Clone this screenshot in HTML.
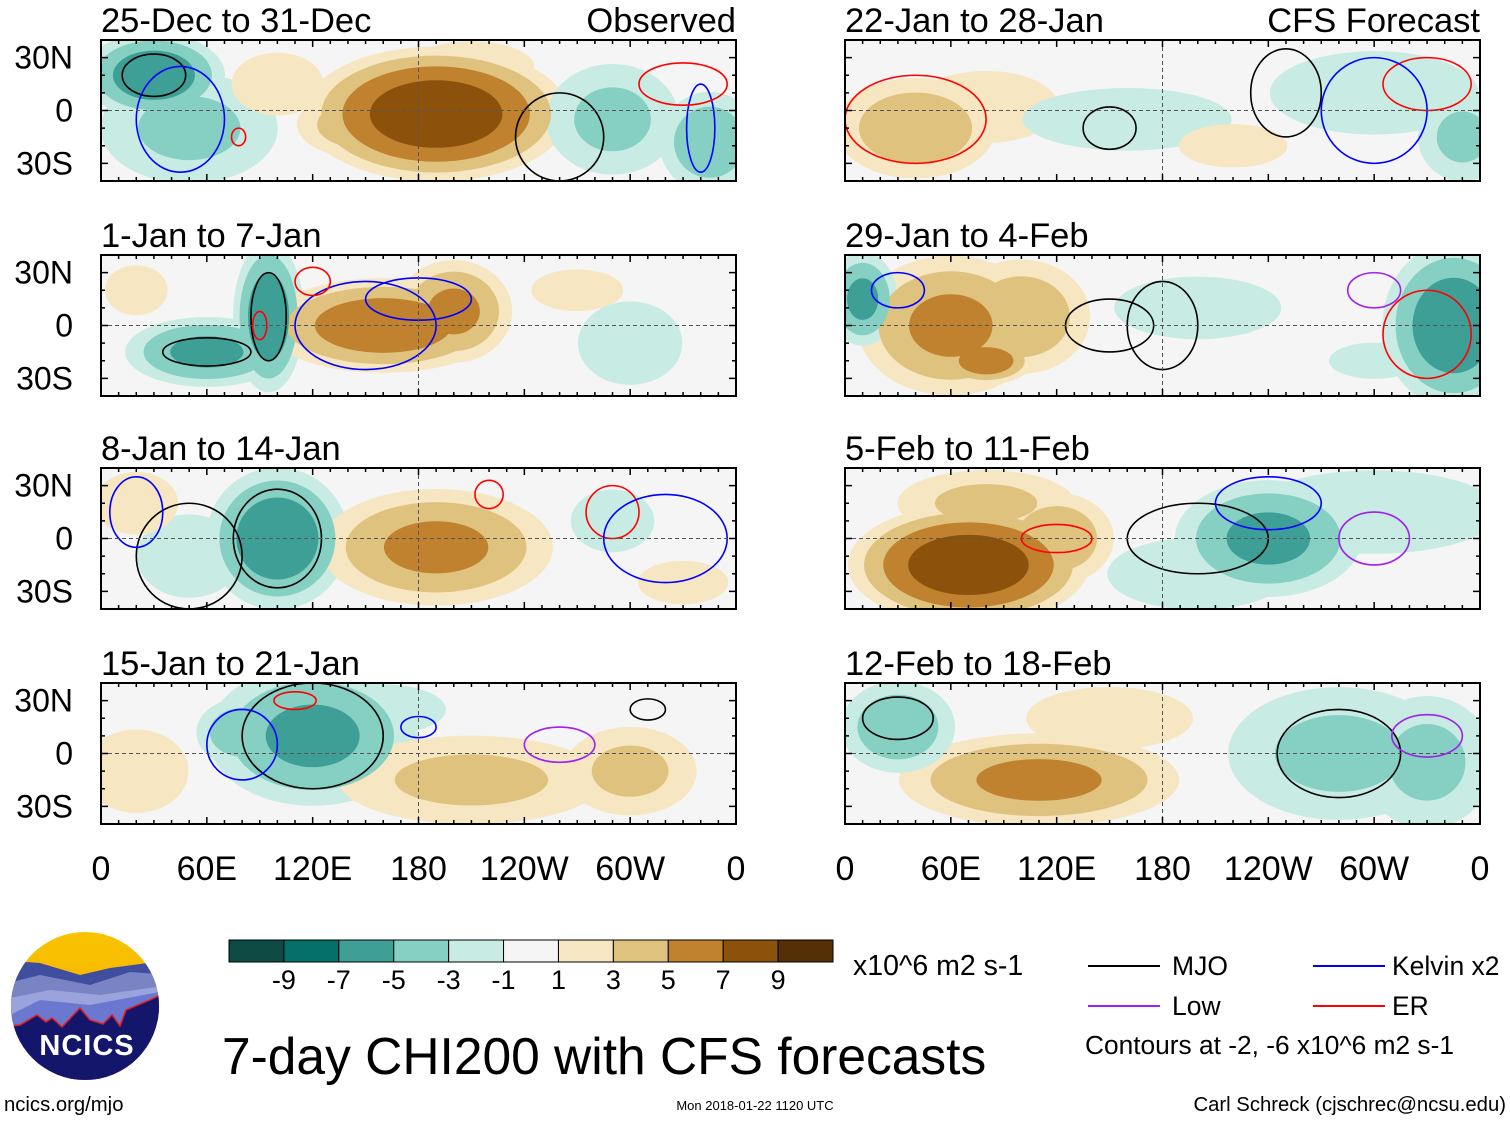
<!DOCTYPE html>
<html><head><meta charset="utf-8"><style>
html,body{margin:0;padding:0;background:#fff;}
svg{display:block;font-family:"Liberation Sans",Arial,sans-serif;}
</style></head><body>
<svg id="root" width="1510" height="1121" viewBox="0 0 1510 1121">
<defs>
<linearGradient id="sky" x1="0" y1="0" x2="0" y2="1"><stop offset="0" stop-color="#f9c400"/><stop offset="1" stop-color="#f2a500"/></linearGradient>
<clipPath id="logoclip"><circle cx="85" cy="1006" r="74"/></clipPath>
</defs>
<g id="panels"></g>
<g id="colorbar"></g>
<text x="853" y="975" font-size="28.5">x10^6 m2 s-1</text>
<g font-size="26.5">
<line x1="1088" y1="966" x2="1160" y2="966" stroke="#000" stroke-width="2"/>
<text x="1172" y="975">MJO</text>
<line x1="1313" y1="966" x2="1385" y2="966" stroke="#0000ff" stroke-width="2"/>
<text x="1392" y="975">Kelvin x2</text>
<line x1="1088" y1="1006" x2="1160" y2="1006" stroke="#a020f0" stroke-width="2"/>
<text x="1172" y="1015">Low</text>
<line x1="1313" y1="1006" x2="1385" y2="1006" stroke="#ff0000" stroke-width="2"/>
<text x="1392" y="1015">ER</text>
<text x="1085" y="1054" font-size="26.3">Contours at -2, -6 x10^6 m2 s-1</text>
</g>
<text x="222" y="1074" font-size="51.5">7-day CHI200 with CFS forecasts</text>
<g>
<g clip-path="url(#logoclip)">
<rect x="0" y="930" width="170" height="160" fill="url(#sky)"/>
<path d="M0 960 L40 963 L80 975 L110 968 L170 960 L170 1090 L0 1090Z" fill="#3f4e9f"/>
<path d="M0 985 L40 975 L90 985 L130 972 L170 975 L170 1090 L0 1090Z" fill="#7a83c4"/>
<path d="M0 1000 L50 990 L100 995 L170 985 L170 1090 L0 1090Z" fill="#9aa3dc"/>
<path d="M0 1020 L40 1000 L90 1005 L170 990 L170 1090 L0 1090Z" fill="#6b78d0"/>
<path d="M0 1027 L20 1025 L37 1015 L46 1022 L52 1018 L62 1027 L80 1008 L90 1020 L103 1024 L112 1015 L120 1026 L126 1010 L150 1000 L170 990 L170 1090 L0 1090Z" fill="#14166b" stroke="#e51c1c" stroke-width="1.5"/>
</g>
<text x="87" y="1055" font-size="29" font-weight="bold" fill="#fff" text-anchor="middle" letter-spacing="1">NCICS</text>
</g>
<text x="4" y="1111" font-size="20.3">ncics.org/mjo</text>
<text x="755" y="1110" font-size="13" text-anchor="middle">Mon 2018-01-22 1120 UTC</text>
<text x="1506" y="1111" font-size="20.3" text-anchor="end">Carl Schreck (cjschrec@ncsu.edu)</text>
</svg>
<script>
const NS="http://www.w3.org/2000/svg";
const levelBounds=[-11,-9,-7,-5,-3,-1,1,3,5,7,9,11];
const levelColors=["#0e4b44","#05706a","#3e9f96","#86cfc3","#c8ebe3","#f5f5f5","#f6e6c1","#dfc27e","#c0822e","#8c520b","#553006"];
const colorbarLabels=["-9","-7","-5","-3","-1","1","3","5","7","9"];
const lonTickLabels=["0","60E","120E","180","120W","60W","0"];
const lonTicks=[0,60,120,180,240,300,360];
const latTickLabels=["30N","0","30S"];
const latTicks=[30,0,-30];
const panelTitles=["25-Dec to 31-Dec","1-Jan to 7-Jan","8-Jan to 14-Jan","15-Jan to 21-Jan","22-Jan to 28-Jan","29-Jan to 4-Feb","5-Feb to 11-Feb","12-Feb to 18-Feb"];
// anomaly blobs: [lon, lat, lonRadius, latRadius, peak value]
const panelBlobs=[
[[30,20,30,18,-7],[50,-10,40,25,-4],[190,-2,55,28,9],[150,-8,30,15,5],[100,15,22,15,3],[290,-5,30,25,-4],[345,-18,22,22,-5],[210,25,30,12,3]],
[[60,-15,35,15,-6],[95,5,15,32,-7],[160,0,50,20,7],[200,8,25,22,6],[270,20,22,10,3],[300,-10,25,20,-3],[20,20,15,12,3]],
[[100,0,30,30,-7],[50,-10,25,20,-3],[190,-5,50,25,6],[20,20,20,15,3],[290,10,20,15,-3],[330,-25,25,12,2]],
[[120,10,45,30,-6],[80,12,20,15,-5],[210,-15,60,20,4],[300,-10,30,20,4],[20,-10,25,20,3],[160,25,30,12,-3]],
[[40,-10,35,22,5],[80,2,40,20,2],[160,-5,50,15,-3],[300,10,50,20,-3],[350,-15,20,20,-4],[220,-20,30,12,2]],
[[60,0,40,30,6],[100,5,30,25,5],[80,-20,20,10,7],[10,15,15,20,-6],[200,10,40,15,-3],[345,0,30,35,-7],[300,-20,25,10,-2]],
[[70,-15,50,25,9],[80,20,40,15,4],[120,0,25,20,5],[240,0,40,25,-6],[300,15,60,20,-3],[200,-20,50,20,-2]],
[[110,-15,60,20,6],[150,20,40,15,3],[30,15,25,20,-5],[280,0,50,30,-4],[330,-5,30,30,-4]]
];
// contour rings: [lon, lat, lonRadius, latRadius, type]
const panelContours=[
[[30,20,18,12,"mjo"],[260,-15,25,25,"mjo"],[45,-5,25,30,"kelvin"],[340,-10,8,25,"kelvin"],[330,15,25,12,"er"],[78,-15,4,5,"er"]],
[[60,-15,25,8,"mjo"],[95,5,10,25,"mjo"],[150,0,40,25,"kelvin"],[120,25,10,8,"er"],[90,0,4,8,"er"],[180,15,30,12,"kelvin"]],
[[100,0,25,28,"mjo"],[50,-10,30,30,"mjo"],[220,25,8,8,"er"],[290,15,15,15,"er"],[320,0,35,25,"kelvin"],[20,15,15,20,"kelvin"]],
[[120,10,40,30,"mjo"],[110,30,12,5,"er"],[180,15,10,6,"kelvin"],[310,25,10,6,"mjo"],[80,5,20,20,"kelvin"],[260,5,20,10,"low"]],
[[40,-5,40,25,"er"],[150,-10,15,12,"mjo"],[250,10,20,25,"mjo"],[330,15,25,15,"er"],[300,0,30,30,"kelvin"]],
[[30,20,15,10,"kelvin"],[150,0,25,15,"mjo"],[330,-5,25,25,"er"],[300,20,15,10,"low"],[180,0,20,25,"mjo"]],
[[120,0,20,8,"er"],[200,0,40,20,"mjo"],[240,20,30,15,"kelvin"],[300,0,20,15,"low"]],
[[30,20,20,12,"mjo"],[280,0,35,25,"mjo"],[330,10,20,12,"low"]]
];
const contourColors={mjo:"#000",kelvin:"#0000ff",er:"#ff0000",low:"#a020f0"};
const panelLeft=[101,101,101,101,845,845,845,845];
const panelTop=[40,255,468,683,40,255,468,683];
const PW=635,PH=141;
const panelsG=document.getElementById("panels");
function el(tag,attrs,parent){const e=document.createElementNS(NS,tag);for(const k in attrs)e.setAttribute(k,attrs[k]);if(parent)parent.appendChild(e);return e;}
for(let p=0;p<8;p++){
  const x0=panelLeft[p],y0=panelTop[p];
  const xs=lon=>x0+lon/360*PW;
  const ys=lat=>y0+(40-lat)/80*PH;
  const g=el("g",{},panelsG);
  
  
  const cp=el("clipPath",{id:"clip"+p},g);
  el("rect",{x:x0,y:y0,width:PW,height:PH},cp);
  const inner=el("g",{"clip-path":"url(#clip"+p+")"},g);
  el("rect",{x:x0,y:y0,width:PW,height:PH,fill:levelColors[5]},inner);
  const blobs=panelBlobs[p];
  const pos=[1,3,5,7,9];
  for(let li=0;li<pos.length;li++){
    const t=pos[li];
    for(const b of blobs){
      const v=Math.abs(b[4]);
      if(v<=t)continue;
      const f=Math.sqrt((v-t)/v);
      const c=b[4]>0?levelColors[6+li]:levelColors[4-li];
      const e=el("ellipse",{cx:xs(b[0]),cy:ys(b[1]),rx:b[2]/360*PW*f*1.45,ry:b[3]/80*PH*f*1.45,fill:c},inner);
      
      
    }
  }
  for(const c of panelContours[p]){
    const e=el("ellipse",{cx:xs(c[0]),cy:ys(c[1]),rx:c[2]/360*PW,ry:c[3]/80*PH,fill:"none",stroke:contourColors[c[4]],"stroke-width":1.6},inner);
    
    
  }
  el("line",{x1:x0,y1:ys(0),x2:x0+PW,y2:ys(0),stroke:"#555","stroke-dasharray":"4,3","stroke-width":1},inner);
  el("line",{x1:xs(180),y1:y0,x2:xs(180),y2:y0+PH,stroke:"#555","stroke-dasharray":"4,3","stroke-width":1},inner);
  el("rect",{x:x0,y:y0,width:PW,height:PH,fill:"none",stroke:"#000","stroke-width":2},g);
  for(let lon=0;lon<=360;lon+=10){
    const len=lon%60===0?7:4;
    el("line",{x1:xs(lon),y1:y0,x2:xs(lon),y2:y0+len,stroke:"#000","stroke-width":1.5},g);
    el("line",{x1:xs(lon),y1:y0+PH,x2:xs(lon),y2:y0+PH-len,stroke:"#000","stroke-width":1.5},g);
  }
  for(let lat=-40;lat<=40;lat+=10){
    const len=lat%30===0?7:4;
    el("line",{x1:x0,y1:ys(lat),x2:x0+len,y2:ys(lat),stroke:"#000","stroke-width":1.5},g);
    el("line",{x1:x0+PW,y1:ys(lat),x2:x0+PW-len,y2:ys(lat),stroke:"#000","stroke-width":1.5},g);
  }
  const tt=el("text",{x:x0,y:y0-8,"font-size":34.5},g);
  tt.textContent=panelTitles[p];
  
  
  if(p===0||p===4){
    const r=el("text",{x:x0+PW,y:y0-8,"font-size":34.5,"text-anchor":"end"},g);
    r.textContent=p===0?"Observed":"CFS Forecast";
    
    
  }
  if(p<4){
    for(let i=0;i<latTicks.length;i++){
      const t=el("text",{x:73,y:ys(latTicks[i])+11,"font-size":32,"text-anchor":"end"},g);
      t.textContent=latTickLabels[i];
      
      
    }
  }
  if(p===3||p===7){
    for(let i=0;i<lonTicks.length;i++){
      const t=el("text",{x:xs(lonTicks[i]),y:880,"font-size":34,"text-anchor":"middle"},g);
      t.textContent=lonTickLabels[i];
      
      
    }
  }
}
const cb=document.getElementById("colorbar");
const cbX=229,cbW=604,cbY=940,cbH=22,nb=levelColors.length,bw=cbW/nb;
for(let i=0;i<nb;i++){
  const r=el("rect",{x:cbX+i*bw,y:cbY,width:bw,height:cbH,fill:levelColors[i],stroke:"#000","stroke-width":1},cb);
  
  
}
for(let i=0;i<colorbarLabels.length;i++){
  const t=el("text",{x:cbX+(i+1)*bw,y:989,"font-size":27,"text-anchor":"middle"},cb);
  t.textContent=colorbarLabels[i];
  
  
}
</script>
</body></html>
